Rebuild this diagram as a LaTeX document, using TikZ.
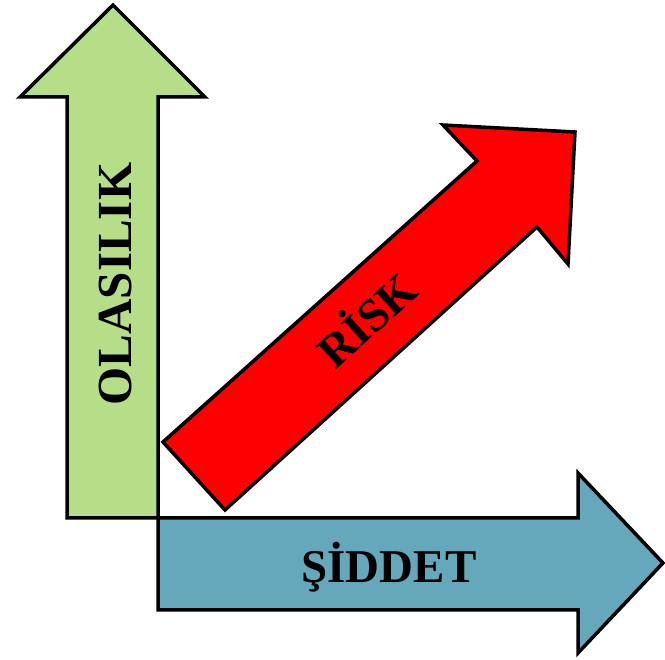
\documentclass[tikz,border=0pt]{standalone}
\usepackage{fontspec}
\setmainfont{Liberation Serif}
\usetikzlibrary{positioning}
\definecolor{olasilikyesil}{RGB}{182,221,136}
\definecolor{siddetmavi}{RGB}{102,168,187}
\definecolor{riskkirmizi}{RGB}{255,0,0}
\tikzset{
  okgovde/.style={draw=black, line width=3.5pt, line join=miter, miter limit=10},
  yesilok/.style={okgovde, fill=olasilikyesil},
  maviok/.style={okgovde, fill=siddetmavi},
  kirmiziok/.style={okgovde, fill=riskkirmizi},
  etiket/.style={font=\fontsize{47}{50}\selectfont\bfseries, text=black, inner sep=0pt, anchor=base}
}
\begin{document}
\begin{tikzpicture}[x=1pt,y=-1pt]
        \useasboundingbox (0,0) rectangle (665,660);

        % Olasılık oku (yukarı)
        \draw[yesilok] (67,518) -- (67,97) -- (20,97) -- (113,5) -- (205,97) -- (158,97) -- (158,518) -- cycle;

        % Şiddet oku (sağa)
        \draw[maviok] (158,518) -- (578,518) -- (578,473) -- (663,563) -- (578,653) -- (578,610) -- (158,610) -- cycle;

        % Risk oku (çapraz)
        \draw[kirmiziok] (163,442) -- (477,161) -- (443,125) -- (575,132) -- (568,264) -- (537,227) -- (225,510) -- cycle;

        % Etiketler
        \node[etiket, rotate=90, font=\fontsize{49}{50}\selectfont\bfseries] (olasilik) at (131,284) {OLASILIK};
        \node[etiket] (siddet) at (389,583) {ŞİDDET};
        \node[etiket, rotate=42] (risk) at (378,332) {RİSK};
    \end{tikzpicture}
\end{document}
